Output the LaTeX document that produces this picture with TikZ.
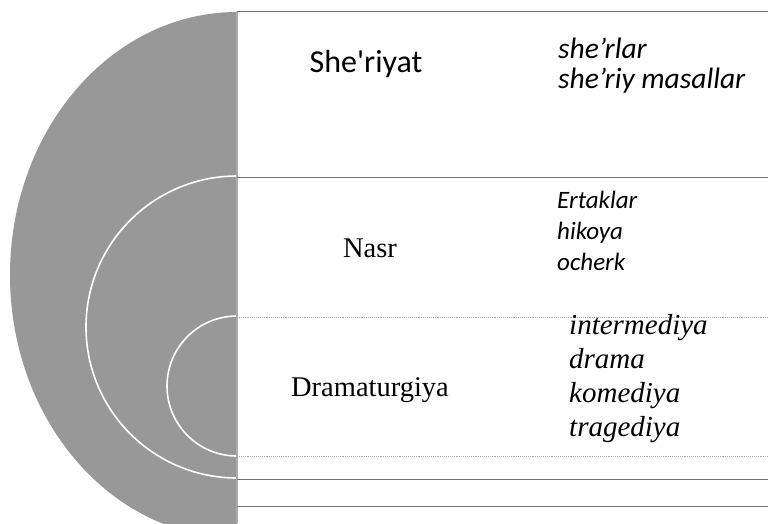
\documentclass[tikz,border=0pt]{standalone}
\usepackage{fontspec}
\setmainfont{Liberation Serif}
\newfontfamily\calibrifont{Carlito}
\definecolor{discgray}{RGB}{152,152,152}
\definecolor{rulegray}{RGB}{115,115,115}

\tikzset{
  genre/.style = {inner sep=0pt, anchor=center},
  examples/.style = {inner sep=0pt, anchor=west, align=left},
  rule/.style = {rulegray, line width=0.9pt},
  ring/.style = {white, line width=1.6pt}
}

\begin{document}
\begin{tikzpicture}[x=1pt, y=-1pt]
  \useasboundingbox (0,0) rectangle (768,523);
  \begin{scope}
    \clip (0,0) rectangle (237,523);
    \fill[discgray] (237,275) ellipse [x radius=227, y radius=263];
    \draw[ring] (237,327) circle [radius=151];
    \draw[ring] (237,386) circle [radius=70];
  \end{scope}
  \draw[rulegray!60, line width=1.2pt] (237,11) -- (237,523);
  \foreach \y in {11,177,479,506}
    \draw[rule] (237,\y) -- (768,\y);
  \foreach \y in {317,456}
    \draw[rule, rulegray!60, densely dotted] (237,\y) -- (768,\y);

  \node[genre, font=\calibrifont\fontsize{32}{34}\selectfont] (sheriyat) at (366,64) {She'riyat};
  \node[examples, font=\calibrifont\itshape\fontsize{29.5}{30}\selectfont] (poems) at (558,66) {she’rlar\\she’riy masallar};

  \node[genre, font=\fontsize{28.5}{30}\selectfont] (nasr) at (370,248) {Nasr};
  \node[examples, font=\calibrifont\itshape\fontsize{25}{31}\selectfont] (prose) at (557,231) {Ertaklar\\hikoya\\ocherk};

  \node[genre, font=\fontsize{28.5}{30}\selectfont] (drama) at (370,390) {Dramaturgiya};
  \node[examples, font=\itshape\fontsize{29}{34}\selectfont] (plays) at (569,379) {intermediya\\drama\\komediya\\tragediya};
\end{tikzpicture}
\end{document}
